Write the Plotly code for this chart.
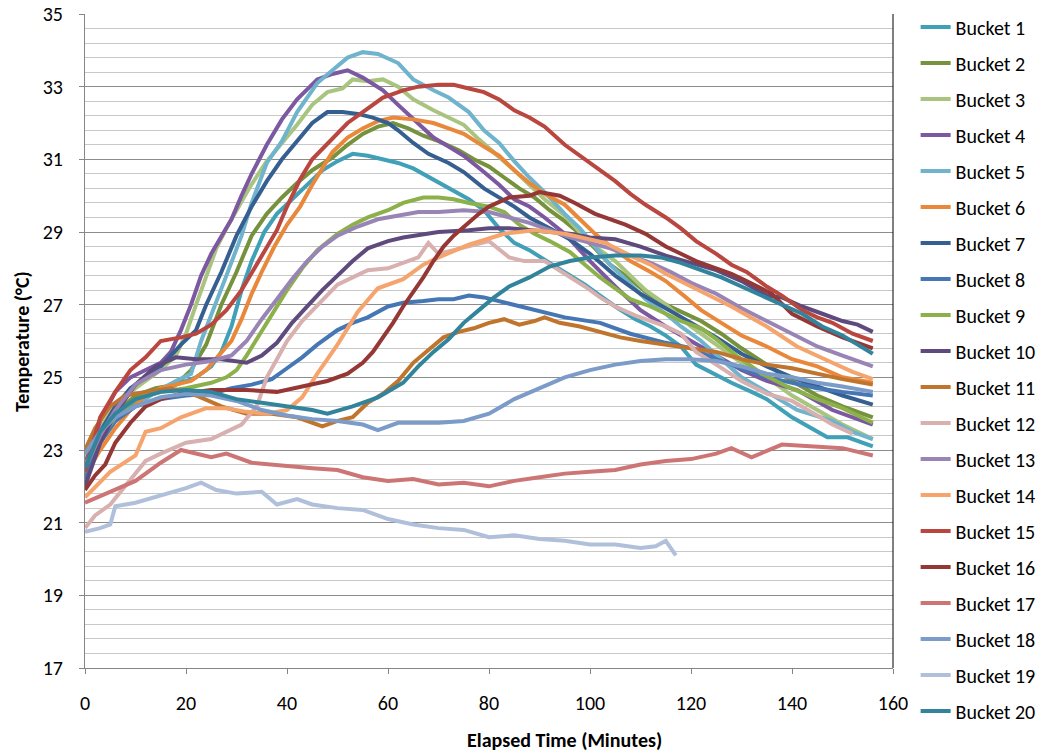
import plotly.graph_objects as go

# Bucket temperature logs: elapsed minutes and temperature (°C)
b01_t = [0, 3, 6, 10, 14, 18, 22, 25, 27, 29, 31, 33, 35.5, 38, 41, 44, 47, 50, 53, 56, 59, 62, 65, 69, 72, 76, 79, 82, 85, 88, 92, 95, 99, 102, 105, 109, 112, 115, 118, 121, 125, 128, 132, 135, 140, 144, 147, 151, 156]
b01_v = [22.4, 23.2, 23.8, 24.3, 24.6, 24.8, 25.0, 25.3, 25.7, 26.4, 27.4, 28.2, 29.0, 29.5, 29.9, 30.3, 30.7, 30.95, 31.15, 31.1, 31.0, 30.9, 30.75, 30.45, 30.2, 29.9, 29.6, 29.1, 28.7, 28.5, 28.15, 27.9, 27.55, 27.25, 26.95, 26.6, 26.4, 26.15, 25.85, 25.35, 25.05, 24.85, 24.6, 24.4, 23.9, 23.6, 23.35, 23.35, 23.1]

b02_t = [0, 3, 6, 10, 14, 18, 21, 24, 27, 30, 33, 36, 39, 42, 45, 49, 52, 55, 58, 61, 64, 67, 70, 74, 77, 80, 83, 86, 89, 92, 95, 98, 101, 104, 108, 111, 115, 118, 122, 126, 130, 135, 140, 145, 150, 156]
b02_v = [22.7, 23.4, 24.0, 24.5, 24.7, 24.8, 25.2, 25.9, 27.0, 27.9, 28.9, 29.5, 29.95, 30.35, 30.7, 31.05, 31.4, 31.7, 31.9, 32.0, 31.85, 31.65, 31.5, 31.25, 31.0, 30.8, 30.5, 30.2, 29.95, 29.6, 29.3, 28.95, 28.55, 28.1, 27.7, 27.35, 27.0, 26.8, 26.55, 26.2, 25.8, 25.35, 24.9, 24.5, 24.2, 23.9]

b03_t = [0, 3, 6, 9, 12, 15, 18, 20, 22, 24, 26, 28, 30, 32.7, 36, 39, 42, 45, 48, 51, 53, 56, 59, 62, 65, 69, 72, 75, 78, 81, 85, 88, 91, 95, 98, 101, 105, 108, 111, 115, 120, 125, 130, 135, 140, 145, 150, 156]
b03_v = [22.8, 23.6, 24.2, 24.6, 24.9, 25.2, 25.6, 26.2, 27.0, 27.8, 28.55, 29.1, 29.6, 30.25, 30.95, 31.45, 31.95, 32.5, 32.85, 32.95, 33.2, 33.15, 33.2, 33.0, 32.65, 32.35, 32.15, 31.95, 31.55, 31.2, 30.7, 30.3, 29.9, 29.45, 29.0, 28.6, 28.2, 27.8, 27.4, 27.0, 26.4, 25.9, 25.4, 25.0, 24.5, 24.1, 23.7, 23.3]

b04_t = [0, 3, 6, 9, 12, 15, 17, 19, 21, 23, 25, 27, 29, 31, 33, 36, 39, 42, 46, 49, 52, 55, 59, 62, 65, 69, 72, 75, 79, 82, 85, 88, 91, 95, 100, 105, 110, 115, 120, 125, 130, 135, 141, 148, 156]
b04_v = [22.6, 23.8, 24.6, 25.0, 25.2, 25.4, 25.7, 26.3, 27.0, 27.8, 28.4, 28.9, 29.35, 30.0, 30.6, 31.4, 32.1, 32.65, 33.2, 33.35, 33.45, 33.25, 32.9, 32.5, 32.1, 31.6, 31.35, 31.1, 30.65, 30.3, 29.9, 29.7, 29.4, 28.95, 28.2, 27.5, 26.85, 26.4, 26.0, 25.6, 25.2, 24.9, 24.65, 24.1, 23.7]

b05_t = [0, 3, 6, 10, 14, 18, 21, 23, 25, 28, 31, 33, 36, 39, 42, 46, 49, 52, 55, 58, 62, 65, 69, 72, 76, 79, 82, 85, 88, 91, 95, 98, 101, 104, 107, 111, 115, 118, 122, 126, 130, 135, 141, 148, 152, 156]
b05_v = [22.2, 23.2, 23.8, 24.2, 24.6, 24.9, 25.1, 26.0, 26.7, 27.8, 28.9, 29.8, 30.9, 31.5, 32.3, 33.1, 33.45, 33.8, 33.95, 33.9, 33.65, 33.2, 32.9, 32.7, 32.3, 31.8, 31.45, 30.95, 30.5, 30.1, 29.5, 29.1, 28.6, 28.1, 27.7, 27.15, 26.75, 26.4, 26.0, 25.5, 25.0, 24.6, 24.1, 23.8, 23.5, 23.3]

b06_t = [0, 3, 6, 9, 12, 15, 18, 21, 24, 27, 29, 31, 33, 35, 37.5, 40, 42.6, 45, 49, 52, 55, 58, 61, 65, 69, 72, 75, 79, 82, 85, 88, 91, 95, 98, 101, 105, 108, 112, 115, 119, 122, 126, 130, 135, 140, 145, 150, 156]
b06_v = [22.3, 23.0, 23.6, 24.1, 24.5, 24.7, 24.8, 24.9, 25.2, 25.7, 26.0, 26.6, 27.3, 27.9, 28.6, 29.2, 29.7, 30.3, 31.2, 31.6, 31.85, 32.05, 32.15, 32.1, 32.0, 31.85, 31.7, 31.35, 31.1, 30.7, 30.35, 30.05, 29.75, 29.35, 28.95, 28.5, 28.2, 27.9, 27.65, 27.2, 26.85, 26.5, 26.15, 25.85, 25.5, 25.3, 25.0, 24.85]

b07_t = [0, 3, 6, 9, 12, 15, 17, 19, 22, 24, 27, 30, 33, 36, 39, 42, 45, 48, 51, 54, 57, 60, 62, 65, 68, 72, 75, 79, 82, 85, 88, 92, 96, 100, 105, 110, 115, 120, 125, 130, 135, 140, 145, 150, 156]
b07_v = [22.5, 23.5, 24.2, 24.7, 25.0, 25.3, 25.6, 25.9, 26.3, 27.0, 27.9, 28.9, 29.7, 30.4, 31.0, 31.5, 32.0, 32.3, 32.3, 32.25, 32.15, 32.0, 31.8, 31.45, 31.15, 30.9, 30.65, 30.2, 29.95, 29.7, 29.4, 29.1, 28.8, 28.4, 27.8, 27.3, 26.9, 26.5, 26.1, 25.65, 25.3, 25.0, 24.75, 24.5, 24.25]

b08_t = [0, 3, 6, 10, 15, 20, 25, 29, 33, 37, 40, 43, 46, 50, 53, 56, 60, 63, 67, 70, 73, 76, 79, 82, 85, 89, 95, 102, 108, 115, 120, 125, 130, 135, 140, 145, 150, 156]
b08_v = [22.2, 23.2, 23.8, 24.2, 24.4, 24.5, 24.55, 24.7, 24.8, 24.95, 25.25, 25.55, 25.9, 26.3, 26.5, 26.65, 26.95, 27.05, 27.1, 27.15, 27.15, 27.25, 27.2, 27.1, 27.0, 26.85, 26.65, 26.5, 26.2, 25.95, 25.8, 25.5, 25.25, 25.0, 24.85, 24.7, 24.6, 24.5]

b09_t = [0, 3, 6, 10, 15, 20, 25, 28, 30, 32, 34, 37, 40, 43, 46, 50, 53, 56, 60, 63, 67, 70, 73, 76, 80, 83, 86, 89, 92, 96, 99, 102, 105, 108, 112, 115, 118, 122, 125, 129, 134, 139, 145, 150, 156]
b09_v = [22.6, 23.3, 23.9, 24.4, 24.6, 24.7, 24.85, 25.0, 25.2, 25.6, 26.05, 26.75, 27.4, 28.0, 28.5, 28.95, 29.2, 29.4, 29.6, 29.8, 29.95, 29.95, 29.9, 29.8, 29.7, 29.55, 29.2, 28.95, 28.75, 28.45, 28.1, 27.75, 27.45, 27.15, 26.95, 26.75, 26.55, 26.35, 26.05, 25.6, 25.1, 24.75, 24.4, 24.15, 23.75]

b10_t = [0, 3, 6, 10, 14, 18, 22, 27, 32, 35, 38, 41, 44, 47, 50, 53, 56, 60, 63, 67, 70, 76, 80, 84, 88, 92, 96, 100, 105, 110, 115, 120, 125, 130, 135, 138, 142, 146, 150, 153, 156]
b10_v = [22.0, 23.2, 24.0, 24.8, 25.3, 25.55, 25.5, 25.5, 25.4, 25.6, 25.95, 26.5, 26.95, 27.4, 27.8, 28.2, 28.55, 28.75, 28.85, 28.95, 29.0, 29.05, 29.1, 29.1, 29.05, 29.0, 28.95, 28.85, 28.8, 28.6, 28.35, 28.15, 27.95, 27.65, 27.25, 27.2, 26.95, 26.75, 26.55, 26.45, 26.25]

b11_t = [0, 2, 5, 8, 12, 17, 22, 27, 32, 37, 42, 47, 50, 53, 56, 59, 62, 65, 68, 71, 74, 77, 80, 83, 86, 89, 91, 94, 98, 102, 106, 110, 115, 120, 125, 130, 135, 140, 145, 150, 156]
b11_v = [23.0, 23.6, 24.2, 24.5, 24.6, 24.7, 24.5, 24.2, 24.0, 24.0, 23.9, 23.65, 23.8, 23.9, 24.3, 24.55, 24.9, 25.4, 25.75, 26.1, 26.25, 26.35, 26.5, 26.6, 26.45, 26.55, 26.65, 26.5, 26.4, 26.25, 26.1, 26.0, 25.9, 25.8, 25.7, 25.5, 25.35, 25.25, 25.1, 24.95, 24.8]

b12_t = [0, 2, 5, 8, 10, 12, 15, 20, 25, 28, 31, 34, 36, 38, 40, 43, 47, 50, 53, 56, 60, 63, 66, 68, 70, 73, 76, 80, 84, 87, 91, 95, 99, 102, 105, 109, 112, 115, 118, 121, 125, 130, 135, 140, 145, 148, 152]
b12_v = [20.85, 21.2, 21.5, 22.0, 22.35, 22.7, 22.9, 23.2, 23.3, 23.5, 23.7, 24.2, 25.0, 25.5, 26.0, 26.55, 27.1, 27.55, 27.75, 27.95, 28.0, 28.15, 28.3, 28.7, 28.4, 28.5, 28.6, 28.75, 28.3, 28.2, 28.2, 27.85, 27.5, 27.2, 26.95, 26.7, 26.55, 26.4, 26.2, 25.7, 25.35, 24.9, 24.55, 24.35, 23.95, 23.7, 23.45]

b13_t = [0, 3, 6, 10, 15, 20, 25, 29, 32, 35, 38, 41, 44, 47, 50, 54, 58, 62, 66, 70, 75, 80, 84, 88, 92, 96, 100, 104, 108, 112, 116, 120, 125, 130, 135, 140, 145, 150, 156]
b13_v = [22.5, 23.4, 24.1, 24.8, 25.2, 25.35, 25.45, 25.6, 26.0, 26.6, 27.15, 27.7, 28.2, 28.6, 28.9, 29.15, 29.35, 29.45, 29.55, 29.55, 29.6, 29.55, 29.4, 29.25, 29.05, 28.85, 28.7, 28.55, 28.35, 28.15, 27.9, 27.6, 27.3, 26.9, 26.55, 26.2, 25.85, 25.6, 25.3]

b14_t = [0, 3, 5, 10, 12, 15, 19, 24, 28, 32, 36, 40, 43, 46, 50, 54, 58, 63, 67, 70, 76, 83, 89, 95, 100, 103, 108, 112, 115, 120, 123, 128, 135, 141, 148, 152, 156]
b14_v = [21.7, 22.1, 22.4, 22.85, 23.5, 23.6, 23.9, 24.15, 24.15, 24.05, 24.0, 24.1, 24.45, 25.1, 25.9, 26.8, 27.45, 27.7, 28.1, 28.3, 28.65, 28.95, 29.05, 28.95, 28.8, 28.7, 28.35, 28.1, 27.85, 27.5, 27.3, 26.95, 26.4, 25.85, 25.4, 25.15, 24.95]

b15_t = [0, 3, 6, 9, 12, 15, 19, 22, 25, 28, 31, 34, 36, 38, 40, 42.6, 45, 49, 52, 55, 59, 63, 66, 70, 73, 76, 79, 82, 85, 88, 91, 95, 98, 101, 105, 108, 111, 115, 118, 121, 125, 128, 131, 135, 138, 142, 145, 148, 152, 156]
b15_v = [22.4, 23.9, 24.6, 25.2, 25.55, 26.0, 26.1, 26.2, 26.45, 26.85, 27.4, 28.1, 28.6, 29.05, 29.7, 30.45, 31.0, 31.55, 32.0, 32.3, 32.7, 32.9, 33.0, 33.05, 33.05, 32.95, 32.85, 32.65, 32.35, 32.15, 31.9, 31.4, 31.1, 30.8, 30.4, 30.05, 29.75, 29.4, 29.1, 28.75, 28.4, 28.1, 27.9, 27.5, 27.25, 26.85, 26.65, 26.5, 26.2, 26.0]

b16_t = [0, 2, 4, 6, 9, 12, 15, 19, 25, 32, 38, 43, 48, 52, 55, 57, 59, 61, 63, 65, 67, 69, 71, 73, 75, 78, 80, 84, 88, 90, 94, 97, 101, 104, 107, 111, 115, 118, 121, 124, 128, 131, 136, 140, 145, 150, 156]
b16_v = [21.9, 22.3, 22.6, 23.2, 23.75, 24.2, 24.4, 24.55, 24.65, 24.65, 24.6, 24.75, 24.9, 25.1, 25.4, 25.7, 26.1, 26.5, 26.95, 27.35, 27.75, 28.2, 28.6, 28.9, 29.15, 29.5, 29.7, 29.95, 30.0, 30.1, 30.0, 29.8, 29.5, 29.35, 29.2, 28.95, 28.6, 28.4, 28.2, 28.05, 27.85, 27.65, 27.3, 26.75, 26.4, 26.1, 25.8]

b17_t = [0, 5, 10, 15, 19, 25, 28, 33, 40, 45, 50, 55, 60, 65, 70, 75, 80, 85, 90, 95, 100, 105, 110, 115, 120, 125, 128, 132, 138, 145, 150, 156]
b17_v = [21.55, 21.85, 22.15, 22.65, 23.0, 22.8, 22.9, 22.65, 22.55, 22.5, 22.45, 22.25, 22.15, 22.2, 22.05, 22.1, 22.0, 22.15, 22.25, 22.35, 22.4, 22.45, 22.6, 22.7, 22.75, 22.9, 23.05, 22.8, 23.15, 23.1, 23.05, 22.85]

b18_t = [0, 3, 6, 10, 15, 20, 25, 30, 35, 40, 45, 50, 55, 58, 62, 65, 70, 75, 80, 85, 90, 95, 100, 105, 110, 115, 120, 125, 130, 135, 140, 145, 150, 156]
b18_v = [22.9, 23.5, 23.9, 24.2, 24.45, 24.55, 24.5, 24.35, 24.1, 23.95, 23.85, 23.8, 23.7, 23.55, 23.75, 23.75, 23.75, 23.8, 24.0, 24.4, 24.7, 25.0, 25.2, 25.35, 25.45, 25.5, 25.5, 25.45, 25.3, 25.1, 25.0, 24.85, 24.75, 24.6]

b19_t = [0, 3, 5, 6, 10, 15, 20, 23, 26, 30, 35, 38, 42, 45, 50, 55, 60, 65, 70, 75, 80, 85, 90, 95, 100, 105, 110, 113, 115, 117]
b19_v = [20.75, 20.85, 20.95, 21.45, 21.55, 21.75, 21.95, 22.1, 21.9, 21.8, 21.85, 21.5, 21.65, 21.5, 21.4, 21.35, 21.1, 20.95, 20.85, 20.8, 20.6, 20.65, 20.55, 20.5, 20.4, 20.4, 20.3, 20.35, 20.5, 20.1]

b20_t = [0, 3, 6, 10, 15, 20, 25, 30, 35, 40, 45, 48, 53, 58, 61, 63, 66, 69, 72, 75, 78, 81, 84, 88, 92, 96, 100, 105, 110, 114, 118, 122, 126, 130, 134, 138, 142, 146, 150, 153, 156]
b20_v = [22.5, 23.5, 24.0, 24.4, 24.6, 24.65, 24.6, 24.4, 24.3, 24.2, 24.1, 24.0, 24.2, 24.45, 24.7, 24.85, 25.3, 25.7, 26.05, 26.5, 26.85, 27.2, 27.5, 27.75, 28.05, 28.2, 28.3, 28.35, 28.35, 28.3, 28.15, 27.95, 27.75, 27.5, 27.25, 27.0, 26.75, 26.4, 26.15, 25.9, 25.65]

names = [f"Bucket {i}" for i in range(1, 21)]
times = [b01_t, b02_t, b03_t, b04_t, b05_t, b06_t, b07_t, b08_t, b09_t, b10_t,
         b11_t, b12_t, b13_t, b14_t, b15_t, b16_t, b17_t, b18_t, b19_t, b20_t]
temps = [b01_v, b02_v, b03_v, b04_v, b05_v, b06_v, b07_v, b08_v, b09_v, b10_v,
         b11_v, b12_v, b13_v, b14_v, b15_v, b16_v, b17_v, b18_v, b19_v, b20_v]
colors = ["#40a0b8", "#76923c", "#a9c47f", "#7b58a0", "#6fb4cc",
          "#e9883a", "#365f91", "#4577b5", "#8db14a", "#5f4a7e",
          "#c0752e", "#d9b0b0", "#9985b5", "#f5a46e", "#b9473f",
          "#953735", "#cd7575", "#7b9bc8", "#b0c0da", "#31849b"]

FONT = "Carlito, Calibri, Lato, sans-serif"
FS = 20

fig = go.Figure()
for name, t, v, c in zip(names, times, temps, colors):
    fig.add_trace(go.Scatter(
        x=t, y=v, name=name, mode="lines", legendgroup=name,
        line=dict(color=c, width=4),
    ))

fig.update_layout(
    width=1049, height=755,
    margin=dict(l=85, r=156, t=14, b=87, autoexpand=False),
    paper_bgcolor="white", plot_bgcolor="white",
    font=dict(family=FONT, size=FS, color="#000000"),
    showlegend=True,
    legend=dict(
        x=1.028, y=0.99, xanchor="left", yanchor="top", yref="container",
        maxheight=1.0,
        font=dict(family=FONT, size=FS, color="#000000"),
        tracegroupgap=7, itemwidth=30, bgcolor="rgba(0,0,0,0)",
    ),
    xaxis=dict(
        range=[0, 160], tickmode="linear", tick0=0, dtick=20,
        showgrid=False, zeroline=False,
        showline=True, linecolor="#868686", linewidth=1,
        ticks="outside", ticklen=5, tickcolor="#868686",
        tickfont=dict(family=FONT, size=FS, color="#000000"),
        ticklabelstandoff=12,
    ),
    yaxis=dict(
        range=[17, 35], tickmode="linear", tick0=17, dtick=2,
        showgrid=True, gridcolor="#8c8c8c", gridwidth=1,
        zeroline=False,
        showline=True, linecolor="#868686", linewidth=1,
        ticks="outside", ticklen=5, tickcolor="#868686",
        tickfont=dict(family=FONT, size=FS, color="#000000"),
        ticklabelstandoff=12,
        minor=dict(dtick=0.4, tick0=17, showgrid=True, gridcolor="#c8c8c8", gridwidth=1),
    ),
    annotations=[
        dict(text="<b>Elapsed Time (Minutes)</b>", xref="paper", yref="paper",
             x=0.594, y=-0.11, xanchor="center", yanchor="middle", showarrow=False,
             font=dict(family=FONT, size=FS, color="#000000")),
        dict(text="<b>Temperature (°C)</b>", xref="paper", yref="paper",
             x=-0.078, y=0.5, xanchor="center", yanchor="middle", showarrow=False,
             textangle=-90, font=dict(family=FONT, size=FS, color="#000000")),
    ],
    shapes=[
        dict(type="line", xref="paper", yref="paper", x0=1, x1=1, y0=0, y1=1,
             line=dict(color="#000000", width=1)),
    ],
)

fig.write_html("out.html")
